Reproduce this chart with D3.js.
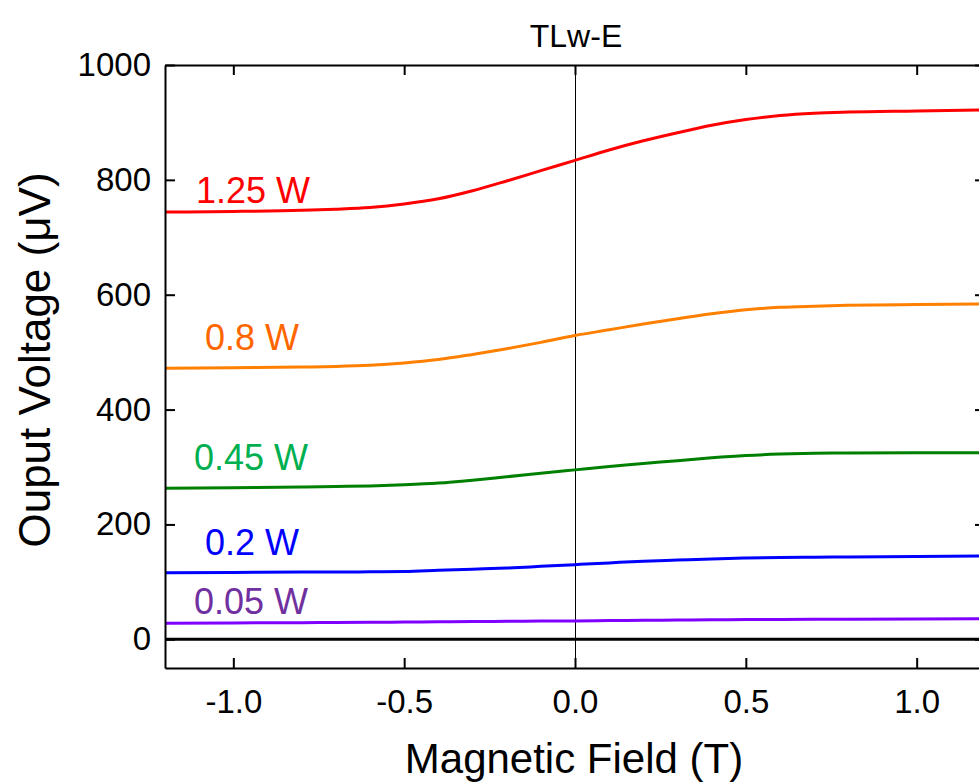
<!DOCTYPE html>
<html lang="en">
<head>
  <meta charset="utf-8" />
  <title>TLw-E</title>
  <script src="https://d3js.org/d3.v7.min.js" charset="utf-8"></script>
  <style>
body {
  margin: 0;
  background-color: white;
  font-family: 'Liberation Sans', Arial, sans-serif;
}
svg {
  display: block;
}
.axis path, .axis line {
  stroke: black;
  stroke-width: 2;
}
.curve {
  fill: none;
  stroke-width: 3;
}
</style>
</head>
<body>
  <svg width="979" height="783"></svg>

  <script>
    // field values (T)
    var field = [-1.2, -1.0, -0.8, -0.7, -0.6, -0.5, -0.4, -0.3, -0.2, -0.1, 0, 0.1, 0.2, 0.3, 0.4, 0.5, 0.6, 0.7, 0.8, 1.0, 1.2];

    // output voltage (uV) for each heater power
    var v125 = [744, 745, 747, 749, 752, 758, 767, 781, 798, 816, 834, 852, 868, 882, 895, 905, 912, 916, 918, 920, 922];
    var v080 = [472, 473, 474, 475, 477, 481, 487, 496, 506, 517, 529, 539, 549, 558, 567, 574, 578, 580, 581.5, 583, 584];
    var v045 = [263, 264, 265, 266, 267, 269, 272, 277, 283, 289, 295, 301, 306, 311, 316, 320, 322.5, 324, 324.5, 325, 325];
    var v020 = [116, 116.5, 117, 117, 117.5, 118, 120, 122, 124, 127, 130, 133, 136, 138, 140, 141.5, 142.5, 143, 143.5, 144, 145];
    var v005 = [28, 28.5, 29, 29.2, 29.5, 30, 30.5, 31, 31.3, 31.7, 32, 32.5, 33, 33.5, 34, 34.3, 34.6, 34.8, 35, 35.5, 36];

    var powerLabels = ['1.25 W', '0.8 W', '0.45 W', '0.2 W', '0.05 W'];
    var lineColors = ['#ff0000', '#ff8000', '#008000', '#0000ff', '#8000ff'];
    var textColors = ['#ff0000', '#ff6600', '#00b050', '#0000ff', '#7030a0'];
    var seriesValues = [v125, v080, v045, v020, v005];

    var xTicks = [-1.0, -0.5, 0.0, 0.5, 1.0];
    var yTicks = [0, 200, 400, 600, 800, 1000];

    var svg = d3.select('svg');
    var plotL = 165, plotR = 985, plotT = 65, plotB = 668;

    var xScale = d3.scaleLinear().domain([-1.2, 1.2]).range([plotL, plotR]);
    var yScale = d3.scaleLinear().domain([-50, 1000]).range([plotB, plotT]);

    // zero lines
    svg.append('line')
      .attr('x1', plotL).attr('x2', plotR)
      .attr('y1', yScale(0)).attr('y2', yScale(0))
      .attr('stroke', 'black')
      .attr('stroke-width', 3);

    svg.append('line')
      .attr('x1', xScale(0) + 0.5).attr('x2', xScale(0) + 0.5)
      .attr('y1', plotT).attr('y2', plotB)
      .attr('stroke', 'black')
      .attr('stroke-width', 1);

    // curves
    var line = d3.line()
      .x((d, i) => xScale(field[i]))
      .y((d) => yScale(d))
      .curve(d3.curveMonotoneX);

    seriesValues.forEach(function (vals, k) {
      svg.append('path')
        .attr('class', 'curve')
        .attr('stroke', lineColors[k])
        .attr('d', line(vals));
    });

    var fmtX = (d) => d3.format('.1f')(d).replace('\u2212', '-');

    // axes (ticks point inward)
    var xBottom = svg.append('g')
      .attr('class', 'axis')
      .attr('transform', `translate(0, ${plotB})`)
      .call(d3.axisBottom(xScale).tickValues(xTicks).tickSizeInner(-10).tickSizeOuter(0).tickPadding(22).tickFormat(fmtX));

    svg.append('g')
      .attr('class', 'axis')
      .attr('transform', `translate(0, ${plotT})`)
      .call(d3.axisTop(xScale).tickValues(xTicks).tickSizeInner(-10).tickSizeOuter(0).tickFormat(''));

    svg.append('g')
      .attr('class', 'axis')
      .attr('transform', `translate(${plotL}, 0)`)
      .call(d3.axisLeft(yScale).tickValues(yTicks).tickSizeInner(-10).tickSizeOuter(0).tickPadding(14).tickFormat(d3.format('d')));

    svg.append('g')
      .attr('class', 'axis')
      .attr('transform', `translate(${plotR}, 0)`)
      .call(d3.axisRight(yScale).tickValues(yTicks).tickSizeInner(-10).tickSizeOuter(0).tickFormat(''));

    svg.selectAll('.axis text')
      .attr('fill', 'black')
      .style('font-family', "'Liberation Sans', Arial, sans-serif")
      .style('font-size', '33px');

    xBottom.selectAll('text').attr('dy', '0.71em');

    // series labels
    var labelX = [196, 205, 194, 205, 194];
    var labelY = [203, 350, 470, 555, 614];
    powerLabels.forEach(function (t, k) {
      svg.append('text')
        .attr('x', labelX[k])
        .attr('y', labelY[k])
        .attr('fill', textColors[k])
        .style('font-size', '36px')
        .text(t);
    });

    // titles
    svg.append('text')
      .attr('x', 576)
      .attr('y', 47)
      .attr('text-anchor', 'middle')
      .style('font-size', '32px')
      .text('TLw-E');

    svg.append('text')
      .attr('x', 574)
      .attr('y', 773)
      .attr('text-anchor', 'middle')
      .style('font-size', '42px')
      .text('Magnetic Field (T)');

    svg.append('text')
      .attr('transform', 'rotate(-90)')
      .attr('x', -360)
      .attr('y', 50)
      .attr('text-anchor', 'middle')
      .style('font-size', '44px')
      .text('Ouput Voltage (\u03bcV)');
  </script>
</body>
</html>
